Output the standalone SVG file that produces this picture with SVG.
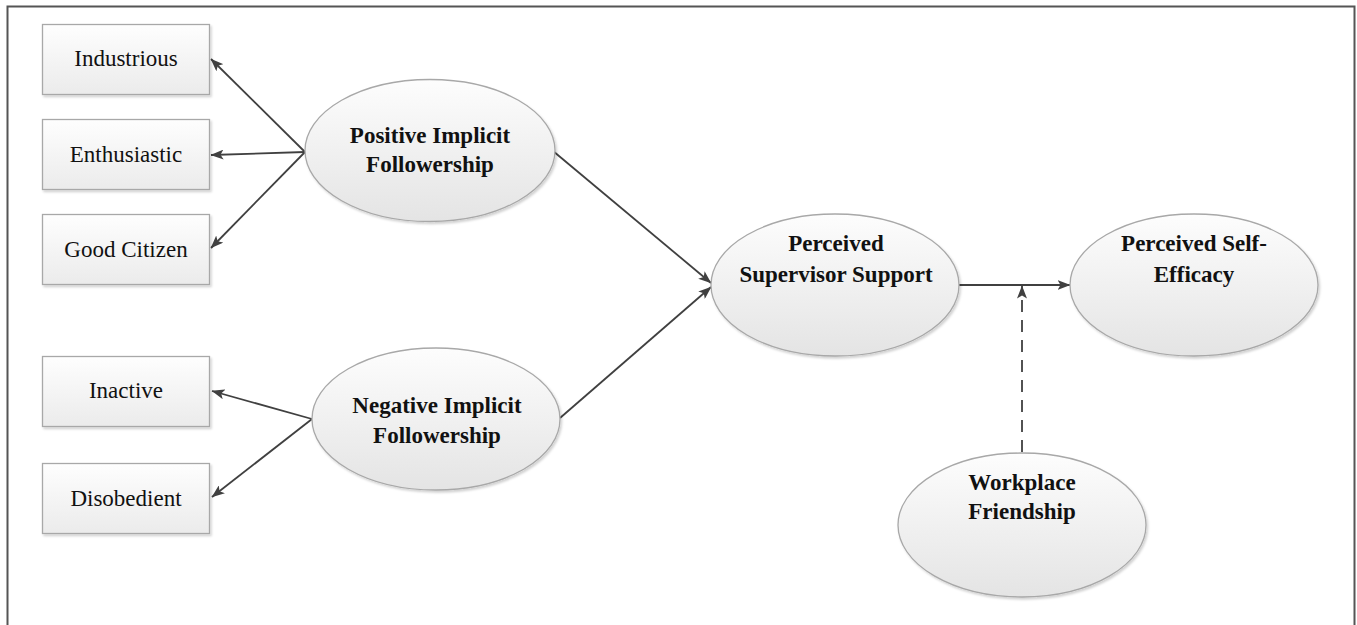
<svg xmlns="http://www.w3.org/2000/svg" width="1357" height="625" viewBox="0 0 1357 625">
<defs>
<linearGradient id="gBox" x1="0" y1="0" x2="0" y2="1">
<stop offset="0" stop-color="#fefefe"/>
<stop offset="1" stop-color="#ebebeb"/>
</linearGradient>
<linearGradient id="gEll" x1="0" y1="0" x2="0" y2="1">
<stop offset="0" stop-color="#fdfdfd"/>
<stop offset="1" stop-color="#e4e4e4"/>
</linearGradient>
<filter id="sh" x="-10%" y="-10%" width="125%" height="130%">
<feDropShadow dx="1.5" dy="2" stdDeviation="1.2" flood-color="#000" flood-opacity="0.18"/>
</filter>
<marker id="ah" viewBox="0 0 13 10" refX="12.5" refY="5" markerWidth="13" markerHeight="10" markerUnits="userSpaceOnUse" orient="auto">
<path d="M0,0 L13,5 L0,10 L3,5 z" fill="#404040"/>
</marker>
</defs>
<style>
.box{fill:url(#gBox);stroke:#a8a8a8;stroke-width:1.3;filter:url(#sh)}
.ell{fill:url(#gEll);stroke:#a8a8a8;stroke-width:1.3;filter:url(#sh)}
.t{font-family:"Liberation Serif","Times New Roman",serif;font-size:23px;fill:#111;text-anchor:middle}
.b{font-weight:bold}
.c{stroke:#404040;stroke-width:1.8;fill:none;marker-end:url(#ah)}
.d{stroke-dasharray:12 8}
</style>
<rect width="1357" height="625" fill="#ffffff"/>
<path d="M7.5,630 L7.5,6.5 L1354.5,6.5 L1354.5,630" fill="none" stroke="#555555" stroke-width="2"/>
<g id="connectors">
<line class="c" x1="305" y1="152" x2="211" y2="59"/>
<line class="c" x1="305" y1="152" x2="211" y2="155"/>
<line class="c" x1="305" y1="152" x2="211" y2="248"/>
<line class="c" x1="312" y1="419" x2="212" y2="391"/>
<line class="c" x1="312" y1="419" x2="212" y2="497"/>
<line class="c" x1="553" y1="151" x2="711" y2="283"/>
<line class="c" x1="560" y1="418" x2="711" y2="287"/>
<line class="c" x1="959" y1="285" x2="1070" y2="285"/>
<line class="c d" x1="1022" y1="452" x2="1022" y2="286"/>
</g>
<g id="industrious"><rect class="box" x="42.5" y="24.5" width="167" height="70"/><text class="t" x="126" y="66">Industrious</text></g>
<g id="enthusiastic"><rect class="box" x="42.5" y="119.5" width="167" height="70"/><text class="t" x="126" y="162">Enthusiastic</text></g>
<g id="good-citizen"><rect class="box" x="42.5" y="214.5" width="167" height="70"/><text class="t" x="126" y="257">Good Citizen</text></g>
<g id="inactive"><rect class="box" x="42.5" y="356.5" width="167" height="70"/><text class="t" x="126" y="398">Inactive</text></g>
<g id="disobedient"><rect class="box" x="42.5" y="463.5" width="167" height="70"/><text class="t" x="126" y="506">Disobedient</text></g>
<g id="positive"><ellipse class="ell" cx="430" cy="150.5" rx="125" ry="71"/><text class="t b" x="430" y="143">Positive Implicit</text><text class="t b" x="430" y="172">Followership</text></g>
<g id="negative"><ellipse class="ell" cx="436" cy="419" rx="124" ry="71"/><text class="t b" x="437" y="413">Negative Implicit</text><text class="t b" x="437" y="443">Followership</text></g>
<g id="pss"><ellipse class="ell" cx="835" cy="285" rx="124" ry="71"/><text class="t b" x="836" y="251">Perceived</text><text class="t b" x="836" y="282">Supervisor Support</text></g>
<g id="pse"><ellipse class="ell" cx="1194" cy="285" rx="124" ry="71"/><text class="t b" x="1194" y="251">Perceived Self-</text><text class="t b" x="1194" y="282">Efficacy</text></g>
<g id="workplace"><ellipse class="ell" cx="1022" cy="525" rx="124" ry="72"/><text class="t b" x="1022" y="490">Workplace</text><text class="t b" x="1022" y="519">Friendship</text></g>
</svg>
